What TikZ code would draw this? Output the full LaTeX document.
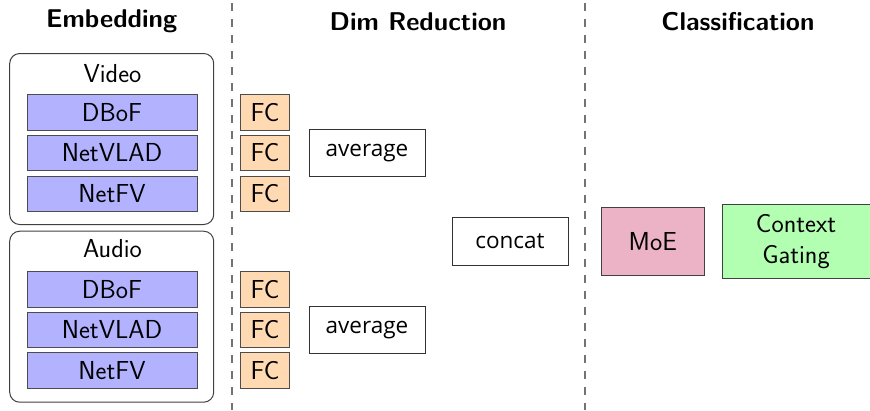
\documentclass[tikz,border=0pt]{standalone}
\usepackage{fontspec}
\newfontfamily\opsans{Open Sans}
\begin{document}
\begin{tikzpicture}[x=1pt,y=-1pt,
  every node/.style={font=\sffamily\fontsize{26}{31}\selectfont, inner sep=0pt, outer sep=0pt},
  hdr/.style={font=\sffamily\bfseries\fontsize{25.7}{31}\selectfont, anchor=base},
  group/.style={draw=black!75, line width=1pt, rounded corners=10pt, minimum width=204pt, minimum height=171pt},
  emb/.style={draw=black!70, line width=1pt, fill=blue!30, minimum width=170pt, minimum height=35.6pt},
  fcbox/.style={draw=black!70, line width=1pt, fill=orange!30, minimum width=48.6pt, minimum height=35.6pt},
  opbox/.style={draw=black!80, line width=0.9pt, fill=white, minimum width=116pt, minimum height=47.6pt, font=\opsans\fontsize{22.5}{27}\selectfont},
  sep/.style={draw=black!55, line width=2pt, dash pattern=on 8.3pt off 7.7pt},
  lbl/.style={anchor=base}
]
\useasboundingbox (0,0) rectangle (870,410);
% headers
\node[hdr] (h1) at (111.7,27.3) {Embedding};
\node[hdr] (h2) at (418,30) {Dim Reduction};
\node[hdr] (h3) at (738,30.5) {Classification};
% separators
\coordinate (s1t) at (231.5,3);
\coordinate (s1b) at (231.5,410);
\coordinate (s2t) at (584.5,3);
\coordinate (s2b) at (584.5,410);
\draw[sep] (s1t) -- (s1b);
\draw[sep] (s2t) -- (s2b);
% groups
\node[group] (video) at (111.7,139) {};
\node[group] (audio) at (111.7,316.7) {};
\node[lbl] (vlab) at (112.5,82) {Video};
\node[lbl] (alab) at (112.5,257.5) {Audio};
% embedding boxes
\node[emb] (v1) at (112,112.2) {DBoF};
\node[emb] (v2) at (112,152.9) {NetVLAD};
\node[emb] (v3) at (112,193.9) {NetFV};
\node[emb] (a1) at (112,289.5) {DBoF};
\node[emb] (a2) at (112,330) {NetVLAD};
\node[emb] (a3) at (112,370.5) {NetFV};
% FC boxes
\node[fcbox] (f1) at (265,112.2) {FC};
\node[fcbox] (f2) at (265,152.9) {FC};
\node[fcbox] (f3) at (265,193.9) {FC};
\node[fcbox] (f4) at (265,289.5) {FC};
\node[fcbox] (f5) at (265,330) {FC};
\node[fcbox] (f6) at (265,370.5) {FC};
% ops
\node[opbox] (avg1) at (367,152.8) {average};
\node[opbox] (avg2) at (367,330) {average};
\node[opbox] (cat) at (510,241.2) {concat};
% classification
\node[draw=black!75, line width=1pt, fill=purple!30, minimum width=102.5pt, minimum height=68.4pt] (moe) at (652.8,241.5) {MoE};
\node[draw=black!75, line width=1pt, fill=green!30, minimum width=148pt, minimum height=74pt, align=center] (cg) at (796,241.3) {Context\\Gating};
\end{tikzpicture}
\end{document}
